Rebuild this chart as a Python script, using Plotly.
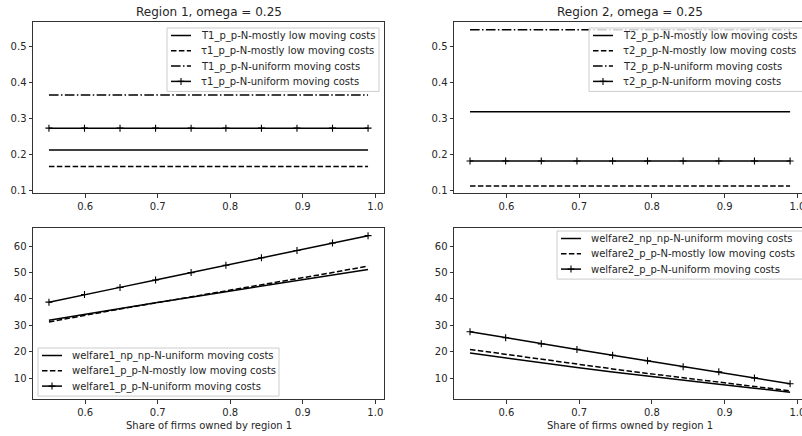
import plotly.graph_objects as go

# Share of firms owned by region 1 (sample points)
share = [0.55, 0.599, 0.648, 0.697, 0.746, 0.794, 0.843, 0.892, 0.941, 0.99]

# Region 1 tax rates
T1_low = [0.212, 0.212, 0.212, 0.212, 0.212, 0.212, 0.212, 0.212, 0.212, 0.212]
tau1_low = [0.166, 0.166, 0.166, 0.166, 0.166, 0.166, 0.166, 0.166, 0.166, 0.166]
T1_uni = [0.366, 0.366, 0.366, 0.366, 0.366, 0.366, 0.366, 0.366, 0.366, 0.366]
tau1_uni = [0.273, 0.273, 0.273, 0.273, 0.273, 0.273, 0.273, 0.273, 0.273, 0.273]

# Region 2 tax rates
T2_low = [0.319, 0.319, 0.319, 0.319, 0.319, 0.319, 0.319, 0.319, 0.319, 0.319]
tau2_low = [0.111, 0.111, 0.111, 0.111, 0.111, 0.111, 0.111, 0.111, 0.111, 0.111]
T2_uni = [0.548, 0.548, 0.548, 0.548, 0.548, 0.548, 0.548, 0.548, 0.548, 0.548]
tau2_uni = [0.181, 0.181, 0.181, 0.181, 0.181, 0.181, 0.181, 0.181, 0.181, 0.181]

# Welfare, region 1
w1_np_uni = [31.9, 34.2, 36.4, 38.6, 40.7, 42.8, 44.8, 46.9, 49.0, 51.2]
w1_p_low = [31.3, 33.8, 36.2, 38.5, 40.8, 43.0, 45.2, 47.5, 50.0, 52.5]
w1_p_uni = [38.8, 41.7, 44.4, 47.2, 50.0, 52.8, 55.6, 58.4, 61.2, 64.0]

# Welfare, region 2
w2_np_uni = [19.5, 17.6, 15.8, 14.0, 12.3, 10.7, 9.2, 7.7, 6.2, 4.7]
w2_p_low = [20.9, 19.0, 17.1, 15.3, 13.5, 11.8, 10.1, 8.4, 6.8, 5.2]
w2_p_uni = [27.6, 25.3, 23.0, 20.9, 18.7, 16.6, 14.3, 12.4, 10.1, 7.9]

W, H = 802, 436
FONT = "DejaVu Sans"
INK = "#262626"
LW = 1.5
DASHES = {"solid": "solid", "dash": "5.5px,2.4px", "dashdot": "9.6px,2.4px,1.5px,2.4px",
          "plus": "solid"}

fig = go.Figure()

# panel id -> list of (series, label, style)
panels = {
    "": [
        (T1_low, "T1_p_p-N-mostly low moving costs", "solid"),
        (tau1_low, "τ1_p_p-N-mostly low moving costs", "dash"),
        (T1_uni, "T1_p_p-N-uniform moving costs", "dashdot"),
        (tau1_uni, "τ1_p_p-N-uniform moving costs", "plus"),
    ],
    "2": [
        (T2_low, "T2_p_p-N-mostly low moving costs", "solid"),
        (tau2_low, "τ2_p_p-N-mostly low moving costs", "dash"),
        (T2_uni, "T2_p_p-N-uniform moving costs", "dashdot"),
        (tau2_uni, "τ2_p_p-N-uniform moving costs", "plus"),
    ],
    "3": [
        (w1_np_uni, "welfare1_np_np-N-uniform moving costs", "solid"),
        (w1_p_low, "welfare1_p_p-N-mostly low moving costs", "dash"),
        (w1_p_uni, "welfare1_p_p-N-uniform moving costs", "plus"),
    ],
    "4": [
        (w2_np_uni, "welfare2_np_np-N-uniform moving costs", "solid"),
        (w2_p_low, "welfare2_p_p-N-mostly low moving costs", "dash"),
        (w2_p_uni, "welfare2_p_p-N-uniform moving costs", "plus"),
    ],
}

for ax, series in panels.items():
    for y, label, style in series:
        kw = dict(mode="lines", line=dict(color="black", width=LW, dash=DASHES[style]))
        if style == "plus":
            kw = dict(mode="lines+markers", line=dict(color="black", width=LW),
                      marker=dict(symbol="cross-thin", size=5,
                                  line=dict(color="black", width=1.1)))
        fig.add_trace(go.Scatter(x=share, y=y, name=label, xaxis="x" + ax,
                                 yaxis="y" + ax, showlegend=False, **kw))


def px_x(p):
    return p / W


def px_y(p):
    return 1 - p / H


shapes = []
annotations = []


def legend_box(ax, left, top, right):
    """Framed legend in the corner of a panel, one row per series."""
    series = panels[ax]
    pitch = 15.3
    bottom = top + 7.5 + (len(series) - 1) * pitch + 10
    shapes.append(dict(type="rect", xref="paper", yref="paper", layer="above",
                       x0=px_x(left), x1=px_x(right), y0=px_y(bottom), y1=px_y(top),
                       fillcolor="rgba(255,255,255,0.8)",
                       line=dict(color="#cccccc", width=1)))
    for i, (_, label, style) in enumerate(series):
        cy = top + 7.5 + i * pitch
        x0, x1 = left + 4, left + 24
        shapes.append(dict(type="line", xref="paper", yref="paper", layer="above",
                           x0=px_x(x0), x1=px_x(x1), y0=px_y(cy), y1=px_y(cy),
                           line=dict(color="black", width=LW, dash=DASHES[style])))
        if style == "plus":
            cx, r = (x0 + x1) / 2, 3.5
            path = (f"M {px_x(cx)},{px_y(cy - r)} L {px_x(cx)},{px_y(cy + r)} "
                    f"M {px_x(cx - r)},{px_y(cy)} L {px_x(cx + r)},{px_y(cy)}")
            shapes.append(dict(type="path", xref="paper", yref="paper", layer="above",
                               path=path, line=dict(color="black", width=1.1)))
        annotations.append(dict(text=label, x=px_x(left + 32), y=px_y(cy + 0.5),
                                xref="paper", yref="paper", showarrow=False,
                                xanchor="left", yanchor="middle",
                                font=dict(family=FONT, size=10, color=INK)))


legend_box("", 167, 28, 379)
legend_box("2", 589, 28, 806)
legend_box("3", 38, 348, 279)
legend_box("4", 557, 231, 806)

axis_common = dict(
    showline=True, mirror=True, linecolor="#333333", linewidth=1,
    ticks="outside", ticklen=3.5, tickwidth=1, tickcolor="#333333",
    showgrid=False, zeroline=False, automargin=False,
    ticklabeloverflow="allow",
    tickfont=dict(family=FONT, size=10, color=INK),
)

left_dom = [px_x(33), px_x(384)]
right_dom = [px_x(454), 1.0]
top_dom = [px_y(193), px_y(22)]
bot_dom = [px_y(399), px_y(228)]

x_left_range = [0.528, 1.012]
x_right_range = [0.528, 0.528 + 348 / 727.5]
x_ticks = dict(tickvals=[0.6, 0.7, 0.8, 0.9, 1.0], tickformat=".1f")
top_ticks = dict(tickvals=[0.1, 0.2, 0.3, 0.4, 0.5], tickformat=".1f")
bot_ticks = dict(tickvals=[10, 20, 30, 40, 50, 60])
top_range = [0.0916, 0.5699]
bot_range = [2.1, 66.9]

for text, cx in [("Region 1, omega = 0.25", 208.5), ("Region 2, omega = 0.25", 629.5)]:
    annotations.append(dict(text=text, x=px_x(cx), y=px_y(12), xref="paper", yref="paper",
                            showarrow=False, xanchor="center", yanchor="middle",
                            font=dict(family=FONT, size=12, color=INK)))
for cx in (208.5, 629.5):
    annotations.append(dict(text="Share of firms owned by region 1", x=px_x(cx), y=px_y(425),
                            xref="paper", yref="paper", showarrow=False,
                            xanchor="center", yanchor="middle",
                            font=dict(family=FONT, size=10, color=INK)))

fig.update_layout(
    width=W, height=H,
    margin=dict(l=0, r=0, t=0, b=0),
    template="none",
    showlegend=False,
    paper_bgcolor="white", plot_bgcolor="white",
    font=dict(family=FONT, size=10, color=INK),
    xaxis=dict(domain=left_dom, range=x_left_range, anchor="y", **x_ticks, **axis_common),
    yaxis=dict(domain=top_dom, range=top_range, anchor="x", **top_ticks, **axis_common),
    xaxis2=dict(domain=right_dom, range=x_right_range, anchor="y2", **x_ticks, **axis_common),
    yaxis2=dict(domain=top_dom, range=top_range, anchor="x2", **top_ticks, **axis_common),
    xaxis3=dict(domain=left_dom, range=x_left_range, anchor="y3", **x_ticks, **axis_common),
    yaxis3=dict(domain=bot_dom, range=bot_range, anchor="x3", **bot_ticks, **axis_common),
    xaxis4=dict(domain=right_dom, range=x_right_range, anchor="y4", **x_ticks, **axis_common),
    yaxis4=dict(domain=bot_dom, range=bot_range, anchor="x4", **bot_ticks, **axis_common),
    shapes=shapes,
    annotations=annotations,
)

fig.write_html("out.html")
